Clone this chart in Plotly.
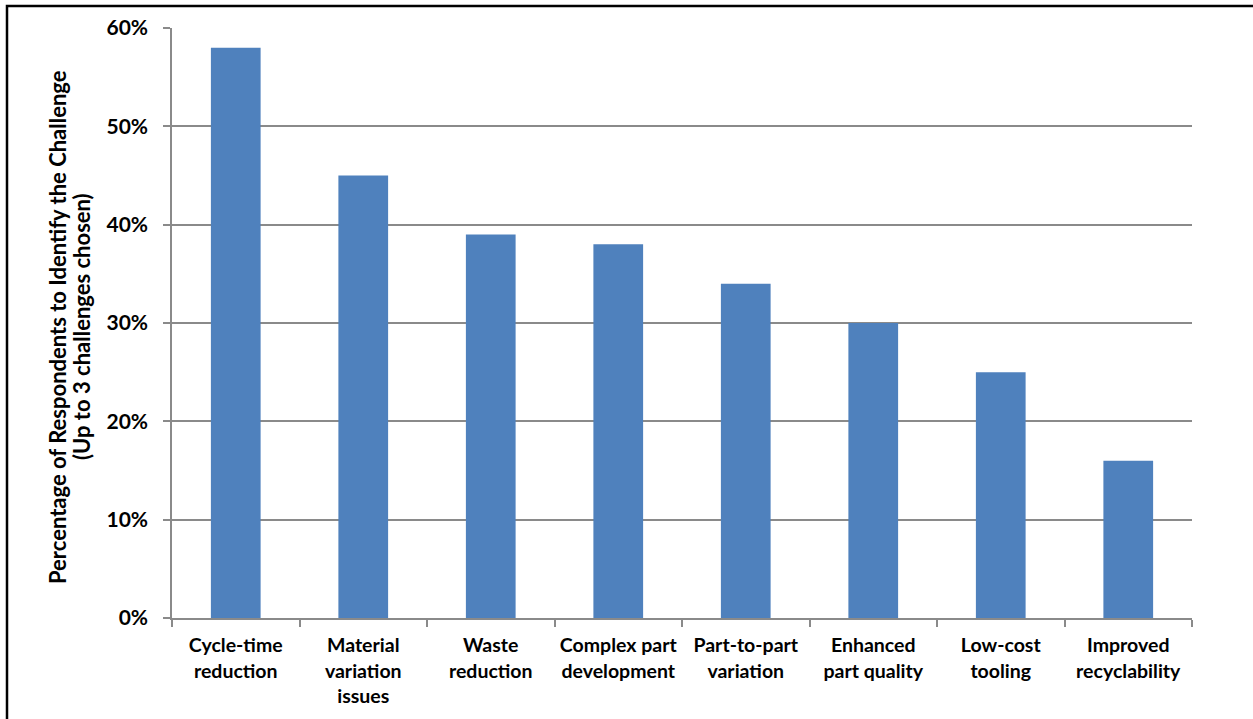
import plotly.graph_objects as go

# Survey results: share of respondents naming each challenge
categories = [
    "Cycle-time<br>reduction",
    "Material<br>variation<br>issues",
    "Waste<br>reduction",
    "Complex part<br>development",
    "Part-to-part<br>variation",
    "Enhanced<br>part quality",
    "Low-cost<br>tooling",
    "Improved<br>recyclability",
]
shares = [0.58, 0.45, 0.39, 0.38, 0.34, 0.30, 0.25, 0.16]
y_ticks = [0, 0.1, 0.2, 0.3, 0.4, 0.5, 0.6]
y_title_lines = [
    "Percentage of Respondents to Identify the Challenge",
    "(Up to 3 challenges chosen)",
]

W, H = 1253, 719
M_L, M_R, M_T, M_B = 172, 61, 28, 101

FONT = "Lato, 'DejaVu Sans', sans-serif"
GRID = "#8a8a8a"

fig = go.Figure(
    go.Bar(
        x=categories,
        y=shares,
        marker=dict(color="#4f81bd", line=dict(width=0)),
        hoverinfo="x+y",
    )
)

# pixel -> paper helpers for the frame and the two-line axis title
pw = W - M_L - M_R
ph = H - M_T - M_B
def px_to_paper_x(px):
    return (px - M_L) / pw
def px_to_paper_y(py):
    return (H - M_B - py) / ph

# outer frame around the whole chart
fig.add_shape(
    type="rect", xref="paper", yref="paper",
    x0=px_to_paper_x(7), x1=px_to_paper_x(W + 5),
    y0=px_to_paper_y(H + 5), y1=px_to_paper_y(6),
    line=dict(color="black", width=2.5), fillcolor="rgba(0,0,0,0)",
    layer="above",
)

# y-axis title, one annotation per line for tight line spacing
for line, cx in zip(y_title_lines, [57, 81]):
    fig.add_annotation(
        text=line, textangle=-90, showarrow=False,
        xref="paper", yref="paper",
        x=px_to_paper_x(cx), y=px_to_paper_y(327),
        xanchor="center", yanchor="middle",
        font=dict(family=FONT, size=22, color="black", weight="bold"),
    )

fig.update_layout(
    width=W, height=H,
    margin=dict(l=M_L, r=M_R, t=M_T, b=M_B, pad=0, autoexpand=False),
    paper_bgcolor="white", plot_bgcolor="white",
    bargap=0.61,
    showlegend=False,
    font=dict(family=FONT, size=20, color="black", weight="bold"),
    xaxis=dict(
        type="category",
        automargin=False,
        tickangle=0,
        showline=True, linecolor=GRID, linewidth=1.5,
        ticks="outside", tickson="boundaries", ticklen=7, tickcolor=GRID, tickwidth=1.5,
        ticklabelstandoff=9,
        showgrid=False,
        tickfont=dict(family=FONT, size=19.5, color="black", weight="bold"),
    ),
    yaxis=dict(
        automargin=False,
        range=[0, 0.6],
        tickvals=y_ticks,
        tickformat=".0%",
        showline=True, linecolor=GRID, linewidth=1.5,
        ticks="outside", ticklen=7, tickcolor=GRID, tickwidth=1.5,
        ticklabelstandoff=11,
        showgrid=True, gridcolor=GRID, gridwidth=1.5,
        zeroline=False,
        tickfont=dict(family=FONT, size=21, color="black", weight="bold"),
    ),
)

fig.write_html("out.html")
